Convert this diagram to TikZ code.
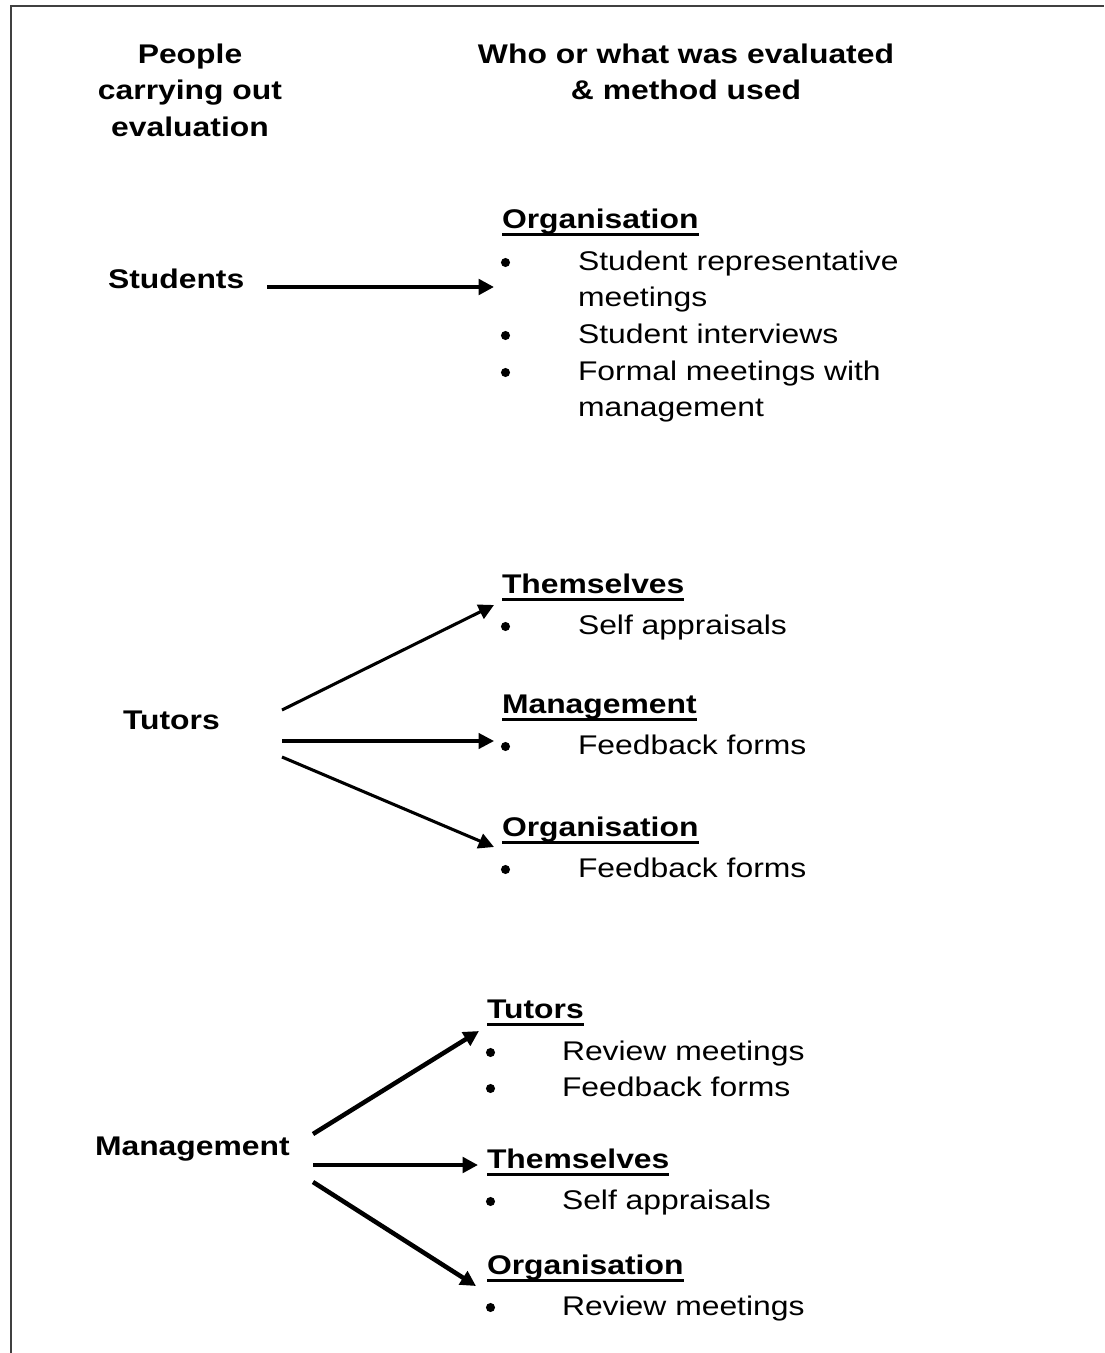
\documentclass[tikz,border=0pt]{standalone}
\usepackage{fontspec}
\setmainfont{Liberation Sans}[FakeStretch=1.18]
\usetikzlibrary{arrows.meta}
\tikzset{
  txt/.style={inner sep=0pt, outer sep=0pt, anchor=base west, font=\fontsize{20.25pt}{27.5pt}\selectfont},
  bold/.style={inner sep=0pt, outer sep=0pt, anchor=base west, font=\fontsize{20.25pt}{27.5pt}\selectfont\bfseries},
  ctr/.style={bold, anchor=base},
  bul/.style={circle, fill=black, inner sep=0pt, minimum size=6.8pt},
  uline/.style={line width=1.9pt},
  frame/.style={line width=1.5pt, draw=black!75},
  thick arrow/.style={line width=3.4pt, -{Triangle[length=11.5pt,width=11.5pt]}},
  thin arrow/.style={line width=2.3pt, -{Triangle[length=11.5pt,width=11.5pt]}},
}
\begin{document}
\begin{tikzpicture}[x=0.75pt,y=-0.75pt]
\useasboundingbox (0,0) rectangle (1104,1353);
\draw[frame] (11,1353) -- (11,6) -- (1104,6);

% headers
\node[ctr] (L1) at (190,63) {People};
\node[ctr] (L2) at (190,99.5) {carrying out};
\node[ctr] (L3) at (190,136) {evaluation};
\node[ctr] (R1) at (686,63) {Who or what was evaluated};
\node[ctr] (R2) at (686,99.5) {\& method used};

% left labels
\node[bold] (stu) at (108,288) {Students};
\node[bold] (tut) at (123,729) {Tutors};
\node[bold] (man) at (95,1155) {Management};

% block 1
\node[bold] (h1) at (502,228) {Organisation};
\node[bul] (b11) at (505.5,262.5) {};
\node[txt] (i11) at (578,270) {Student representative};
\node[txt] (i12) at (578,306.5) {meetings};
\node[bul] (b12) at (505.5,335.5) {};
\node[txt] (i13) at (578,343) {Student interviews};
\node[bul] (b13) at (505.5,372.5) {};
\node[txt] (i14) at (578,380) {Formal meetings with};
\node[txt] (i15) at (578,416.5) {management};

% block 2
\node[bold] (h2) at (502,593) {Themselves};
\node[bul] (b2) at (505.5,626.5) {};
\node[txt] (i2) at (578,634) {Self appraisals};

% block 3
\node[bold] (h3) at (502,713) {Management};
\node[bul] (b3) at (505.5,746.5) {};
\node[txt] (i3) at (578,754) {Feedback forms};

% block 4
\node[bold] (h4) at (502,836) {Organisation};
\node[bul] (b4) at (505.5,869.5) {};
\node[txt] (i4) at (578,877) {Feedback forms};

% block 5
\node[bold] (h5) at (487,1018) {Tutors};
\node[bul] (b51) at (490.5,1052.5) {};
\node[txt] (i51) at (562,1060) {Review meetings};
\node[bul] (b52) at (490.5,1088.5) {};
\node[txt] (i52) at (562,1096) {Feedback forms};

% block 6
\node[bold] (h6) at (487,1168) {Themselves};
\node[bul] (b6) at (490.5,1201.5) {};
\node[txt] (i6) at (562,1209) {Self appraisals};

% block 7
\node[bold] (h7) at (487,1274) {Organisation};
\node[bul] (b7) at (490.5,1307.5) {};
\node[txt] (i7) at (562,1315) {Review meetings};

\foreach \n in {h1,h2,h3,h4,h5,h6,h7}
  \draw[uline] ([yshift=-4.9pt]\n.base west) -- ([yshift=-4.9pt]\n.base east);

% arrow end points
\coordinate (sA) at (267,287);
\coordinate (sB) at (494,287);
\coordinate (tA1) at (282,710);
\coordinate (tB1) at (494,605);
\coordinate (tA2) at (282,741);
\coordinate (tB2) at (494,741);
\coordinate (tA3) at (282,757);
\coordinate (tB3) at (494,847);
\coordinate (mA1) at (313,1134);
\coordinate (mB1) at (479,1031);
\coordinate (mA2) at (313,1165);
\coordinate (mB2) at (478,1165);
\coordinate (mA3) at (313,1182);
\coordinate (mB3) at (476,1286);

\draw[thick arrow] (sA) -- (sB);
\draw[thin arrow] (tA1) -- (tB1);
\draw[thin arrow] (tA2) -- (tB2);
\draw[thin arrow] (tA3) -- (tB3);
\draw[thick arrow] (mA1) -- (mB1);
\draw[thick arrow] (mA2) -- (mB2);
\draw[thick arrow] (mA3) -- (mB3);
\end{tikzpicture}
\end{document}
